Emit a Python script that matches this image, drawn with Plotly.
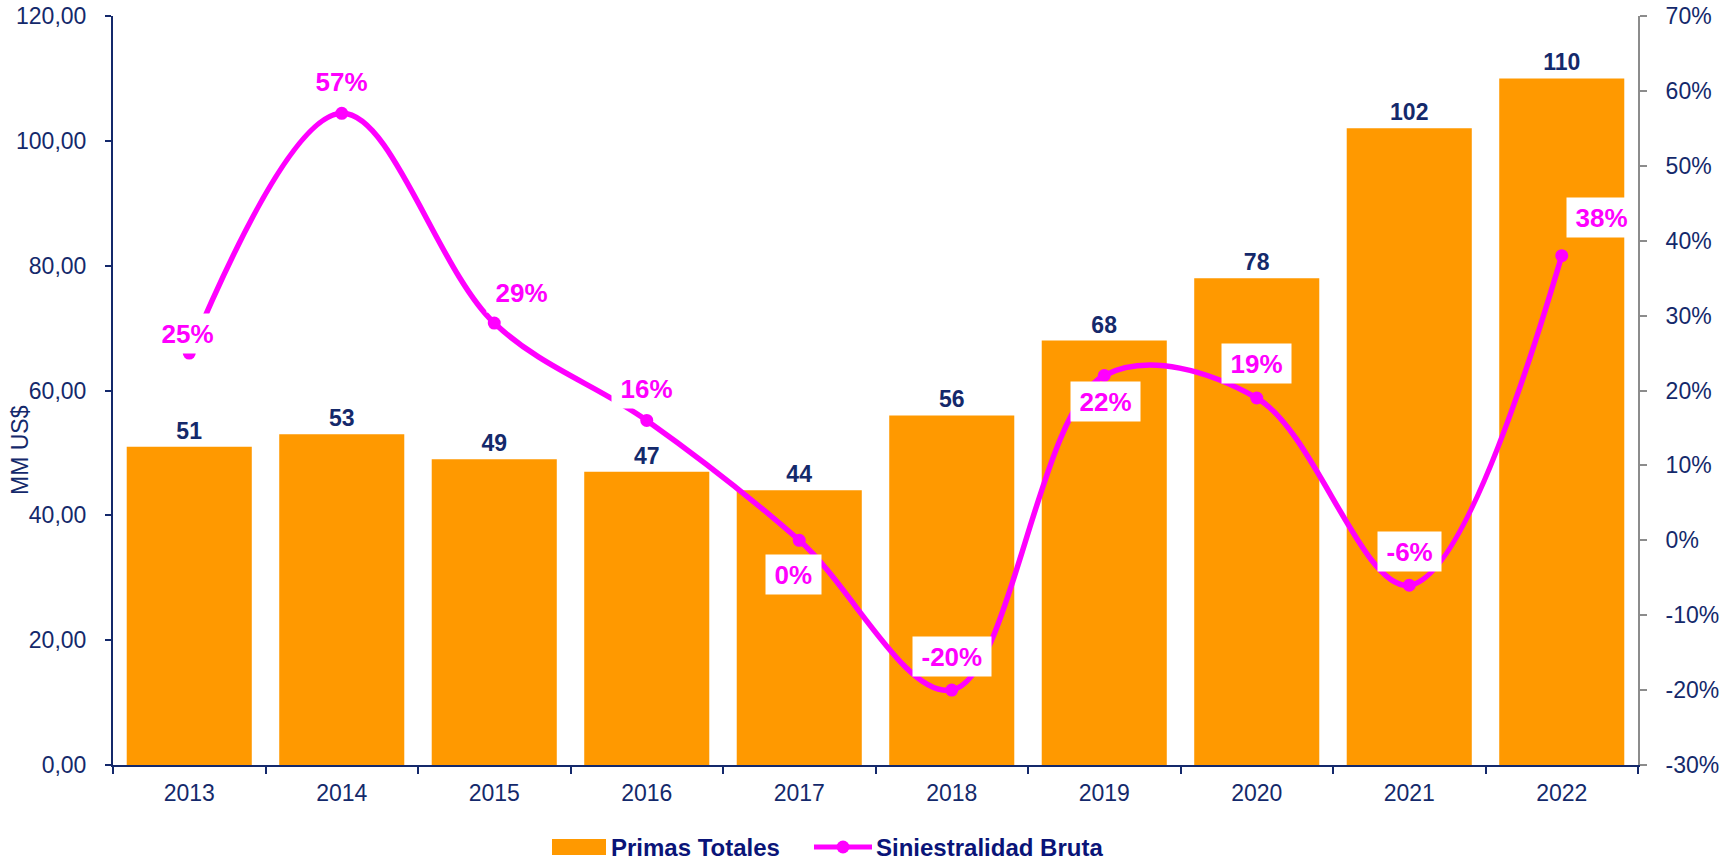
import plotly.graph_objects as go

# Annual figures
years = ["2013", "2014", "2015", "2016", "2017", "2018", "2019", "2020", "2021", "2022"]
primas_totales = [51, 53, 49, 47, 44, 56, 68, 78, 102, 110]          # MM US$
siniestralidad_bruta = [25, 57, 29, 16, 0, -20, 22, 19, -6, 38]       # %

# Axis ticks
left_ticks = [0, 20, 40, 60, 80, 100, 120]
right_ticks = [-30, -20, -10, 0, 10, 20, 30, 40, 50, 60, 70]

# Label placement for the loss-ratio labels (pixel offsets from each point)
label_dx = [-2, 0, 27, 0, -6, 0, 1, 0, 0, 40]
label_dy = [20, 32, 31, 32, -34, 34, -26, 34, 34, 38]

NAVY = "#14296B"
LEGEND_NAVY = "#0A1478"
ORANGE = "#FF9900"
MAGENTA = "#FF00FF"
GRAY = "#8C8C8C"
FONT = "Arial, Liberation Sans, sans-serif"

# plot area in pixels
W, H = 1732, 860
L, R, T, B = 113, 94, 16, 95
PW, PH = W - L - R, H - T - B


def px_x(px):
    return (px - L) / PW


def px_y(py):
    return (H - B - py) / PH


BOLD_W = {"-": 0.333, "%": 0.889}


def box_width(text, size=26):
    return sum(BOLD_W.get(c, 0.556) for c in text) * size + 17


fig = go.Figure()

fig.add_trace(go.Bar(
    x=years, y=primas_totales, name="Primas Totales",
    marker=dict(color=ORANGE, line=dict(width=0)),
    texttemplate="%{y}", textposition="outside", cliponaxis=False,
    textfont=dict(family=FONT, size=23, color=NAVY, weight="bold"),
    showlegend=False,
))

fig.add_trace(go.Scatter(
    x=years, y=siniestralidad_bruta, name="Siniestralidad Bruta", yaxis="y2",
    mode="lines+markers",
    line=dict(color=MAGENTA, width=5.5, shape="spline", smoothing=1),
    marker=dict(color=MAGENTA, size=13),
    showlegend=False,
))

annotations = []
for i, (v, dx, dy) in enumerate(zip(siniestralidad_bruta, label_dx, label_dy)):
    txt = f"{v}%"
    annotations.append(dict(
        x=i, y=v, xref="x", yref="y2", text=f"<b>{txt}</b>", showarrow=False,
        xshift=dx, yshift=dy, bgcolor="white", borderpad=0,
        width=box_width(txt), height=39, align="center", valign="middle",
        font=dict(family=FONT, size=26, color=MAGENTA),
    ))

# y-axis title
annotations.append(dict(
    x=px_x(20), y=px_y(450), xref="paper", yref="paper", text="MM US$",
    textangle=-90, showarrow=False, xanchor="center", yanchor="middle",
    font=dict(family=FONT, size=23, color=NAVY),
))

# legend
annotations.append(dict(
    x=px_x(609), y=px_y(847), xref="paper", yref="paper", text="<b>Primas Totales</b>",
    showarrow=False, xanchor="left", yanchor="middle",
    font=dict(family=FONT, size=24, color=LEGEND_NAVY),
))
annotations.append(dict(
    x=px_x(874), y=px_y(847), xref="paper", yref="paper", text="<b>Siniestralidad Bruta</b>",
    showarrow=False, xanchor="left", yanchor="middle",
    font=dict(family=FONT, size=24, color=LEGEND_NAVY),
))

shapes = [
    dict(type="rect", xref="paper", yref="paper",
         x0=px_x(552), x1=px_x(606), y0=px_y(855), y1=px_y(839),
         fillcolor=ORANGE, line=dict(width=0)),
    dict(type="line", xref="paper", yref="paper",
         x0=px_x(814), x1=px_x(872), y0=px_y(847), y1=px_y(847),
         line=dict(color=MAGENTA, width=5)),
    dict(type="circle", xref="paper", yref="paper",
         x0=px_x(836.5), x1=px_x(849.5), y0=px_y(853.5), y1=px_y(840.5),
         fillcolor=MAGENTA, line=dict(width=0)),
]

fig.update_layout(
    width=W, height=H,
    margin=dict(l=L, r=R, t=T, b=B, pad=0, autoexpand=False),
    paper_bgcolor="white", plot_bgcolor="white",
    bargap=0.18,
    font=dict(family=FONT, color=NAVY),
    xaxis=dict(
        type="category", range=[-0.5, len(years) - 0.5], automargin=False,
        tickson="boundaries", ticks="outside", ticklen=7,
        tickwidth=2, tickcolor=NAVY, showline=True, linecolor=NAVY, linewidth=2,
        showgrid=False, tickfont=dict(family=FONT, size=23, color=NAVY),
        tickangle=0, ticklabelstandoff=6,
    ),
    yaxis=dict(
        range=[0, 120], tickvals=left_ticks, automargin=False,
        ticktext=[f"{v:.2f}".replace(".", ",") for v in left_ticks],
        ticks="outside", ticklen=6, tickwidth=2, tickcolor=NAVY,
        showline=True, linecolor=NAVY, linewidth=2, showgrid=False, zeroline=False,
        tickfont=dict(family=FONT, size=23, color=NAVY), ticklabelstandoff=14,
    ),
    yaxis2=dict(
        range=[-30, 70], overlaying="y", side="right", tickvals=right_ticks,
        automargin=False, ticktext=[f"{v}%" for v in right_ticks],
        ticks="outside", ticklen=7, tickwidth=2, tickcolor=GRAY,
        showline=True, linecolor=GRAY, linewidth=2, showgrid=False, zeroline=False,
        tickfont=dict(family=FONT, size=23, color=NAVY), ticklabelstandoff=14,
    ),
    annotations=annotations,
    shapes=shapes,
    showlegend=False,
)

fig.write_html("out.html")
